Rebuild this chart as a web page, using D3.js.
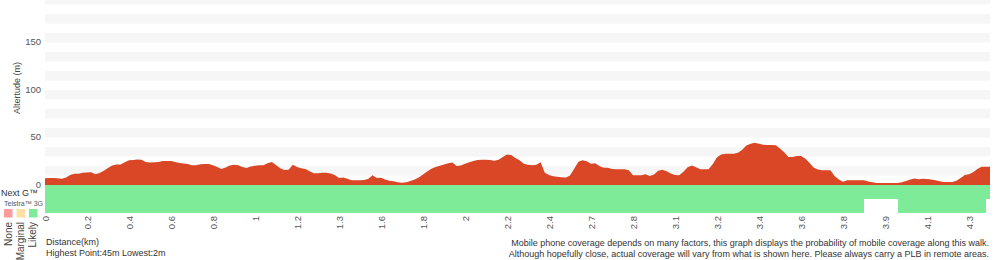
<!DOCTYPE html>
<html><head><meta charset="utf-8">
<script src="https://cdn.jsdelivr.net/npm/d3@7"></script>
<style>
body{margin:0;background:#fff;}
svg text{font-family:"Liberation Sans",Arial,Helvetica,sans-serif;}
</style></head>
<body><svg id="c" width="1000" height="260"></svg>
<script>
// elevation samples (m), one per sample index
const elevation = [7,7.3,7.4,7,6.7,8,10.6,11.9,11.9,13,13.2,13.3,11.4,12.6,15,18,20.5,21.5,21.7,24,
26,26.3,26.8,26.5,24.3,23.8,23.9,24.3,25.3,25.3,25.2,24.3,23.1,22.6,22.2,20.7,20.8,21.8,22.1,22.1,
20.8,19,16.8,18.5,20.5,21.4,20.8,19,17.8,19.4,20.3,20.7,20.7,23,24.3,21,17.6,15.8,16,21.4,
18.9,17.7,16.8,14.5,12.4,12.4,12.8,13,12.2,10.5,7.5,7.8,6.5,5.1,4.9,4.9,5.2,6.7,10.2,7.4,
7.7,5.8,4.5,3.9,3,2.5,2.8,4.3,5.9,8,11,14.3,17.1,18.9,20.3,21.6,23,23.6,20,20.4,
22.5,24,25.3,26.3,26.5,26.7,26.3,25.6,26.5,29.5,32.2,31.5,28.5,26,22.5,21.2,20.7,21.4,24,13,
10.5,9.3,8.7,8.1,7.8,10,17,24.5,26,25,22.5,23,20,18.2,18.2,16.8,16.5,16.5,16.5,15.5,
10.2,10.2,10.2,11.4,9.5,11,15.1,16,14.5,12,10.4,10.2,14,18.8,20.5,18.8,16.5,16.5,16.5,22,
29.2,32.2,33,33,33,34,37.2,41.5,43.5,44.5,43.5,42.4,42.2,42,41.8,38.5,34.5,29.5,29.5,30.5,
30.5,28,23.5,18.5,16.2,15.4,15.4,15.4,9.5,5.7,3.3,4.9,4.9,4.9,4.9,4.9,3.8,2.9,2.2,2.1,
2.1,2.1,2.1,2.2,2.9,4.3,5.9,6.8,6.1,6.5,6.3,5.7,5,4,3.2,3.2,3.2,4.5,7.3,10.4,
11.4,13.5,16.8,19.3,19.3,19.3];

// distance tick labels (km), one every 10 samples
const tickLabels = ["0","0.2","0.4","0.6","0.8","1","1.2","1.3","1.6","1.8","2","2.2","2.4","2.7","2.8","3.1","3.2","3.4","3.6","3.8","3.9","4.1","4.3"];
const tickEvery = 10;

const yTicks = [0,50,100,150];

// coverage segments [startCell, endCell inclusive, level]; levels: 0 None, 1 Marginal, 2 Likely
const nextGCoverage = [[0,224,2]];
const telstra3GCoverage = [[0,194,2],[203,223,2]];

const legendLevels = ["None","Marginal","Likely"];
const legendColors = ["#ff9b9b","#ffe0a3","#7deb98"];

const info1 = "Distance(km)";
const info2 = "Highest Point:45m Lowest:2m";
const note1 = "Mobile phone coverage depends on many factors, this graph displays the probability of mobile coverage along this walk.";
const note2 = "Although hopefully close, actual coverage will vary from what is shown here. Please always carry a PLB in remote areas.";

const svg = d3.select("#c");
const N = elevation.length;
const x = d3.scaleLinear().domain([0, N-1]).range([45, 990]);
const y = d3.scaleLinear().domain([0, 200]).range([185, -5]);

// stripes
const stripes = d3.range(10, 200, 20);
svg.append("g").selectAll("rect").data(stripes).join("rect")
  .attr("x", 45).attr("width", 945)
  .attr("y", d => y(d+10)).attr("height", d => y(d) - y(d+10))
  .attr("fill", "#f6f6f6");

// elevation area
const area = d3.area().x((d,i)=>x(i)).y0(y(0)).y1(d=>y(d));
svg.append("path").datum(elevation).attr("d", area).attr("fill", "#da4726");

// coverage rows
const rowH = 13.5;
function drawRow(segs, y0){
  svg.append("g").attr("shape-rendering", "crispEdges")
    .selectAll("rect").data(segs).join("rect")
    .attr("x", d => x(d[0])).attr("width", d => x(d[1]+1) - x(d[0]))
    .attr("y", y0).attr("height", rowH + 0.5)
    .attr("fill", d => legendColors[d[2]]);
}
drawRow(nextGCoverage, 185);
drawRow(telstra3GCoverage, 185 + rowH);

// y axis labels
svg.append("g").selectAll("text").data(yTicks).join("text")
  .attr("x", 41).attr("y", d => y(d) - 0.5).attr("dy", "0.35em")
  .attr("text-anchor", "end").attr("font-size", 9.5).attr("fill", "#555")
  .text(d => d);
svg.append("text").attr("transform", "translate(20,88) rotate(-90)")
  .attr("text-anchor", "middle").attr("font-size", 9).attr("fill", "#444")
  .text("Altertude (m)");

// x tick labels
svg.append("g").selectAll("text").data(tickLabels).join("text")
  .attr("transform", (d,i) => `translate(${x(i*tickEvery)+3.5},216) rotate(-90)`)
  .attr("text-anchor", "end").attr("font-size", 9.5).attr("fill", "#555")
  .text(d => d);

// legend
svg.append("text").attr("x", 1).attr("y", 196)
  .attr("font-size", 9).attr("fill", "#333").text("Next G\u2122");
svg.append("text").attr("x", 43).attr("y", 205.5).attr("text-anchor", "end")
  .attr("font-size", 7).attr("fill", "#555").text("Telstra\u2122 3G");
const lg = svg.append("g");
lg.selectAll("rect").data(legendLevels).join("rect")
  .attr("x", (d,i) => 4 + i*12.5).attr("y", 209).attr("width", 8.5).attr("height", 8.5)
  .attr("fill", (d,i) => legendColors[i]);
lg.selectAll("text").data(legendLevels).join("text")
  .attr("transform", (d,i) => `translate(${12 + i*12},222) rotate(-90)`)
  .attr("text-anchor", "end").attr("font-size", 10).attr("fill", "#444")
  .text(d => d);

// info texts
svg.append("text").attr("x", 46).attr("y", 245).attr("font-size", 9).attr("fill", "#333").text(info1);
svg.append("text").attr("x", 46).attr("y", 256).attr("font-size", 9).attr("fill", "#333").text(info2);
svg.append("text").attr("x", 989).attr("y", 246).attr("text-anchor", "end").attr("font-size", 9).attr("fill", "#333").text(note1);
svg.append("text").attr("x", 989).attr("y", 257).attr("text-anchor", "end").attr("font-size", 9).attr("fill", "#333").text(note2);
</script></body></html>
